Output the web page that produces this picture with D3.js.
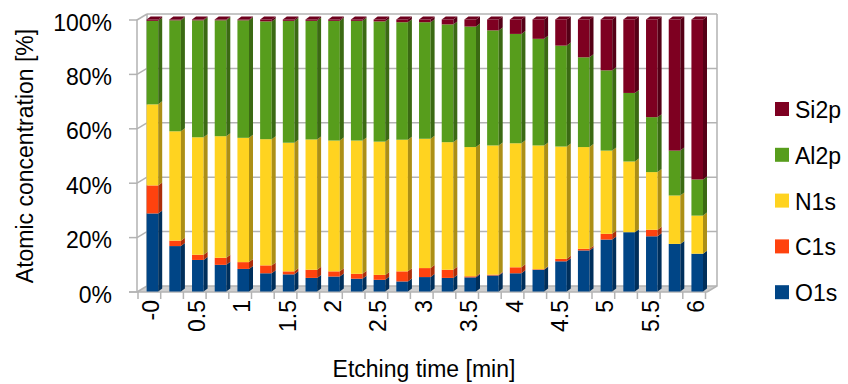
<!DOCTYPE html>
<html>
<head>
<meta charset="utf-8">
<script src="https://cdn.jsdelivr.net/npm/d3@7"></script>
<style>
  body { margin: 0; background: #fff; }
  svg { display: block; font-family: "Liberation Sans", Arial, sans-serif; }
</style>
</head>
<body>
<script>
const times = ["-0", "0.25", "0.5", "0.75", "1", "1.25", "1.5", "1.75", "2", "2.25", "2.5", "2.75",
  "3", "3.25", "3.5", "3.75", "4", "4.25", "4.5", "4.75", "5", "5.25", "5.5", "5.75", "6"];
const shownLabels = ["-0", "0.5", "1", "1.5", "2", "2.5", "3", "3.5", "4", "4.5", "5", "5.5", "6"];

const O1s  = [28.7, 16.7, 11.6, 9.8, 8.3, 6.7, 6.3, 5.0, 5.5, 4.7, 4.3, 3.7, 5.3, 5.0, 5.2, 5.9, 6.7, 8.0, 11.1, 15.1, 19.1, 21.8, 20.3, 17.5, 13.9];
const C1s  = [10.3, 2.0, 1.9, 2.6, 2.5, 2.9, 1.1, 3.0, 1.9, 1.8, 1.8, 3.7, 3.3, 3.0, 0.4, 0.3, 2.2, 0.2, 0.9, 0.6, 2.1, 0.0, 2.4, 0.0, 0.0];
const N1s  = [29.8, 40.2, 43.2, 44.7, 45.7, 46.4, 47.3, 47.9, 48.1, 49.0, 49.0, 48.4, 47.5, 46.9, 47.5, 47.5, 45.6, 45.5, 41.3, 37.4, 30.6, 26.0, 21.2, 17.8, 14.0];
const Al2p = [30.7, 40.8, 43.0, 42.6, 43.2, 43.3, 44.8, 43.6, 44.0, 44.0, 44.2, 43.2, 42.8, 43.3, 44.3, 42.3, 40.2, 39.2, 37.1, 33.0, 29.5, 25.2, 20.2, 16.5, 13.3];
const Si2p = [0.5, 0.3, 0.3, 0.3, 0.3, 0.7, 0.5, 0.5, 0.5, 0.5, 0.7, 1.0, 1.0, 1.8, 2.6, 4.0, 5.3, 7.1, 9.6, 13.9, 18.7, 27.0, 35.9, 48.2, 58.8];

const series = ["O1s", "C1s", "N1s", "Al2p", "Si2p"];
const colors = ["#004586", "#ff420e", "#ffd320", "#579d1c", "#7e0021"];
const yTicks = [0, 0.2, 0.4, 0.6, 0.8, 1];

const rows = times.map((t, i) => ({
  time: t, O1s: O1s[i], C1s: C1s[i], N1s: N1s[i], Al2p: Al2p[i], Si2p: Si2p[i]
}));

const width = 848, height = 384;
const depthX = 10, depthY = 6;      // wall depth offset
const barDX = 4, barDY = 3;         // bar depth offset

const svg = d3.select("body").append("svg")
  .attr("width", width)
  .attr("height", height);

const x = d3.scaleBand().domain(times).range([138, 705.5]);
const y = d3.scaleLinear().domain([0, 1]).range([291.5, 19.5]);
const color = d3.scaleOrdinal(series, colors);

const stacked = d3.stack().keys(series).offset(d3.stackOffsetExpand)(rows);

const x0 = 137, x1 = 707, yb = 292;
const walls = svg.append("g");

// floor
walls.append("path")
  .attr("d", `M${x0},${yb}L${x0 + depthX},${yb - depthY}L${x1 + depthX},${yb - depthY}L${x1},${yb}Z`)
  .attr("fill", "#cfcfcf");

// back wall gridlines + left wall gridlines
yTicks.forEach(v => {
  const yy = y(v) + 0.5;
  walls.append("line")
    .attr("x1", x0 + depthX).attr("x2", x1 + depthX)
    .attr("y1", yy - depthY).attr("y2", yy - depthY)
    .attr("stroke", "#b3b3b3").attr("stroke-width", 1.5);
  walls.append("line")
    .attr("x1", x0).attr("x2", x0 + depthX)
    .attr("y1", yy).attr("y2", yy - depthY)
    .attr("stroke", "#b3b3b3").attr("stroke-width", 1.5);
  walls.append("line")
    .attr("x1", 129).attr("x2", x0)
    .attr("y1", yy).attr("y2", yy)
    .attr("stroke", "#b3b3b3").attr("stroke-width", 1.5);
});

// wall edges
walls.append("path")
  .attr("d", `M${x0},${yb}L${x0},${y(1)}M${x0 + depthX},${yb - depthY}L${x0 + depthX},${y(1) - depthY + 0.5}` +
    `M${x1 + depthX},${y(1) - depthY + 0.5}L${x1 + depthX},${yb - depthY}L${x1},${yb}`)
  .attr("fill", "none")
  .attr("stroke", "#b3b3b3").attr("stroke-width", 1.5);

// front floor edge and x ticks
walls.append("line")
  .attr("x1", 129).attr("x2", x1).attr("y1", yb).attr("y2", yb)
  .attr("stroke", "#b3b3b3").attr("stroke-width", 1.5);
d3.range(times.length + 1).forEach(i => {
  const xx = 138 + i * x.step();
  walls.append("line")
    .attr("x1", xx).attr("x2", xx).attr("y1", yb).attr("y2", yb + 7)
    .attr("stroke", "#b3b3b3").attr("stroke-width", 1.5);
});

// bars
const bw = x.bandwidth() * 0.51;
const bars = svg.append("g");
times.forEach((t, i) => {
  const bx = x(t) + x.bandwidth() * 0.38;
  stacked.forEach((s, k) => {
    const d = s[i];
    if (d[1] - d[0] <= 0) return;
    const ya = y(d[0]), yt = y(d[1]);
    const c = color(s.key);
    bars.append("rect")
      .attr("x", bx).attr("y", yt)
      .attr("width", bw).attr("height", ya - yt)
      .attr("fill", c);
    bars.append("path")
      .attr("d", `M${bx + bw},${ya}L${bx + bw + barDX},${ya - barDY}L${bx + bw + barDX},${yt - barDY}L${bx + bw},${yt}Z`)
      .attr("fill", d3.color(c).darker(1.1));
    if (k === series.length - 1) {
      bars.append("path")
        .attr("d", `M${bx},${yt}L${bx + barDX},${yt - barDY}L${bx + bw + barDX},${yt - barDY}L${bx + bw},${yt}Z`)
        .attr("fill", d3.color(c).darker(0.4));
    }
  });
});

// y tick labels
svg.append("g")
  .selectAll("text")
  .data(yTicks)
  .join("text")
  .attr("x", 112)
  .attr("y", d => y(d) + 3)
  .attr("text-anchor", "end")
  .attr("dominant-baseline", "central")
  .attr("font-size", 23)
  .attr("fill", "#000")
  .text(d => d3.format(".0%")(d));

// x tick labels
svg.append("g")
  .selectAll("text")
  .data(shownLabels)
  .join("text")
  .attr("transform", d => `translate(${x(d) + x.bandwidth() / 2 + 2},${300}) rotate(-90)`)
  .attr("text-anchor", "end")
  .attr("dominant-baseline", "central")
  .attr("font-size", 23)
  .attr("fill", "#000")
  .text(d => d);

// axis titles
svg.append("text")
  .attr("x", 424).attr("y", 369)
  .attr("text-anchor", "middle")
  .attr("dominant-baseline", "central")
  .attr("font-size", 23)
  .text("Etching time [min]");

svg.append("text")
  .attr("transform", "translate(25,156) rotate(-90)")
  .attr("text-anchor", "middle")
  .attr("dominant-baseline", "central")
  .attr("font-size", 23)
  .text("Atomic concentration [%]");

// legend
const legend = svg.append("g")
  .selectAll("g")
  .data(series.slice().reverse())
  .join("g")
  .attr("transform", (d, i) => `translate(775,${109 + i * 45.8})`);
legend.append("rect")
  .attr("x", 0).attr("y", -7)
  .attr("width", 14).attr("height", 14)
  .attr("fill", d => color(d));
legend.append("text")
  .attr("x", 20).attr("y", 1)
  .attr("dominant-baseline", "central")
  .attr("font-size", 23)
  .text(d => d);
</script>
</body>
</html>
